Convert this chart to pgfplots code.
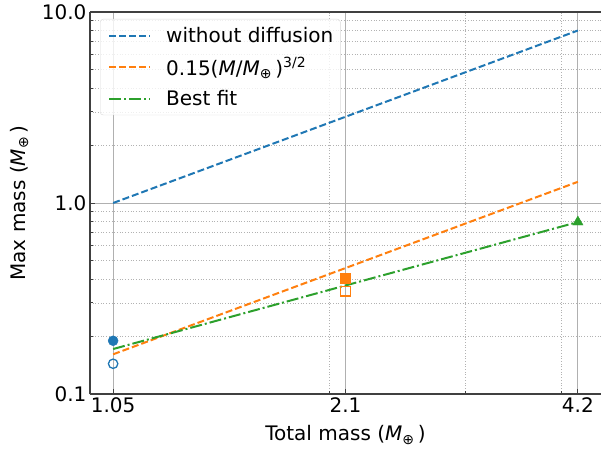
\documentclass[border=0pt]{standalone}
\usepackage{pgfplots}
\pgfplotsset{compat=1.18}
\usepackage{fontspec}
\setmainfont{DejaVu Sans}
\definecolor{mplblue}{HTML}{1F77B4}
\definecolor{mplorange}{HTML}{FF7F0E}
\definecolor{mplgreen}{HTML}{2CA02C}
\begin{document}
\begin{tikzpicture}[font=\fontsize{20}{24}\selectfont]
\begin{axis}[
  scale only axis,
  width=511pt, height=382pt,
  xmode=log, ymode=log,
  xmin=0.98, xmax=4.5,
  ymin=0.1, ymax=10,
  axis y line*=left,
  axis x line*=box,
  xtick pos=left, ytick pos=left,
  axis line style={black!75, line width=1.1pt},
  tick align=inside,
  major tick length=5pt, minor tick length=3pt,
  every tick/.style={black!75, line width=0.9pt},
  xtick={1.05,2.1,4.2}, xticklabels={1.05,2.1,4.2},
  minor xtick={2,3,4},
  ytick={0.1,1,10}, yticklabels={0.1,1.0,10.0},
  minor ytick={0.2,0.3,0.4,0.5,0.6,0.7,0.8,0.9,2,3,4,5,6,7,8,9},
  /pgf/number format/assume math mode=true,
  grid=both,
  major grid style={color=black!31, line width=0.8pt},
  minor grid style={color=black!30, line width=0.7pt, dotted},
  xlabel={Total mass (\textit{M}\textsubscript{⊕}\,)},
  ylabel={Max mass (\textit{M}\textsubscript{⊕}\,)},
  every axis x label/.style={at={(axis description cs:0.5,-0.123)}, anchor=base},
  every axis y label/.style={at={(axis description cs:-0.127,0.5)}, anchor=base, rotate=90},
  legend style={at={(0.0196,0.9817)}, anchor=north west, draw=black!15, rounded corners=3pt,
    fill=white, fill opacity=0.8, text opacity=1, inner xsep=5pt, inner ysep=6pt,
    row sep=9.5pt, font=\fontsize{20}{24}\selectfont},
  legend cell align=left,
  legend image code/.code={\draw[#1] (3pt,0pt) -- (44pt,0pt); \path (0pt,0pt) (57pt,0pt);},
]
\addplot[mplblue, line width=2pt, dash pattern=on 7pt off 3pt] coordinates {(1.05,1.0) (2.1,2.828) (4.2,8.0)};
\addlegendentry{without diffusion}
\addplot[mplorange, line width=2pt, dash pattern=on 7pt off 3pt] coordinates {(1.05,0.1614) (2.1,0.4564) (4.2,1.291)};
\addlegendentry{0.15(\textit{M}/\textit{M}\textsubscript{⊕}\,)\textsuperscript{3/2}}
\addplot[mplgreen, line width=2pt, dash pattern=on 12pt off 3pt on 2pt off 3pt] coordinates {(1.05,0.172) (2.1,0.370) (4.2,0.795)};
\addlegendentry{Best fit}
\addplot[forget plot, only marks, mark=*, mark size=5pt, mplblue] coordinates {(1.05,0.19)};
\addplot[forget plot, only marks, mark=o, mark size=4.7pt, mplblue, mark options={fill=white, line width=1.3pt}] coordinates {(1.05,0.144)};
\addplot[forget plot, only marks, mark=square*, mark size=5pt, mplorange] coordinates {(2.1,0.405)};
\addplot[forget plot, only marks, mark=square, mark size=4.7pt, mplorange, mark options={fill=white, line width=1.3pt}] coordinates {(2.1,0.345)};
\addplot[forget plot, only marks, mark=triangle*, mark size=6pt, mplgreen] coordinates {(4.2,0.795)};
\end{axis}
\pgfresetboundingbox
\path[use as bounding box] ([xshift=-90pt,yshift=-55pt]current axis.south west) rectangle ([yshift=12pt]current axis.north east);
\end{tikzpicture}
\end{document}
